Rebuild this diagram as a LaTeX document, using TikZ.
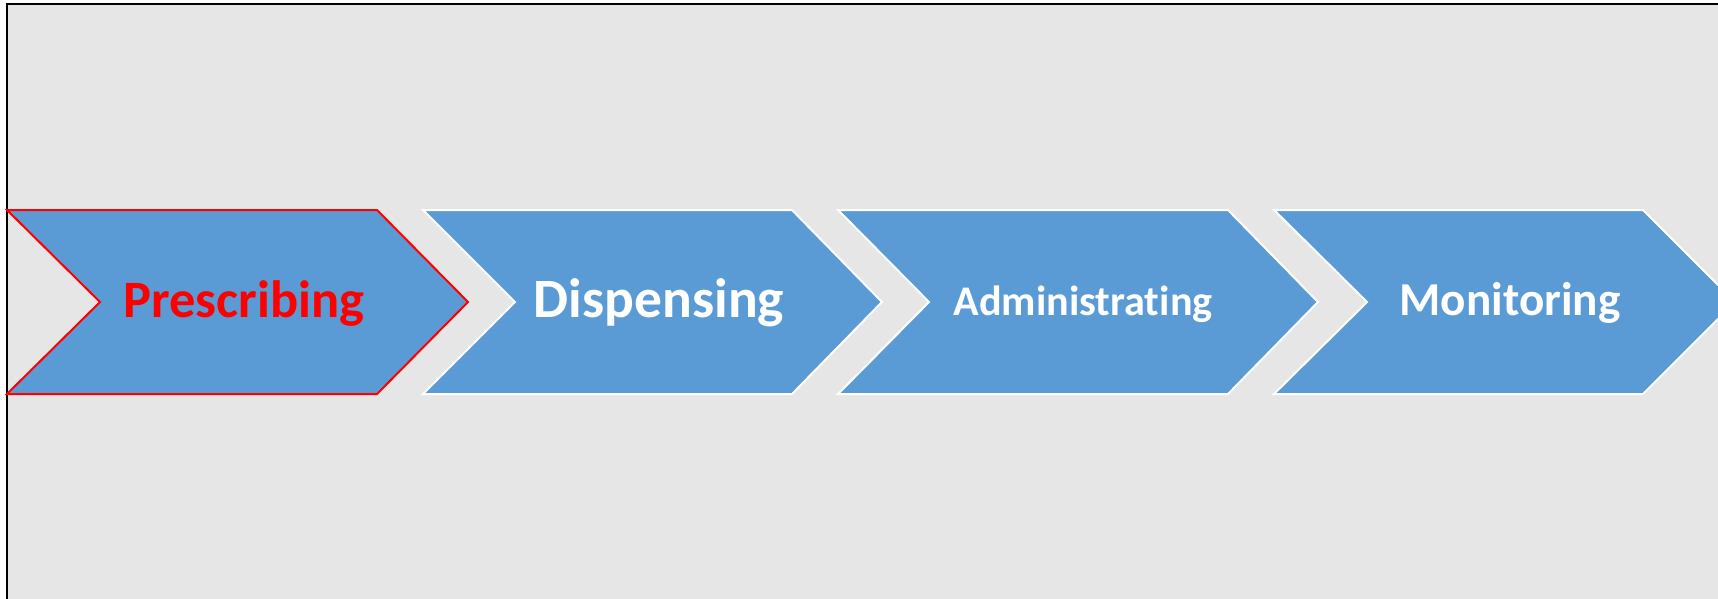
\documentclass[tikz,border=0pt]{standalone}
\usepackage{fontspec}
\setmainfont{Carlito}[Ligatures={NoCommon}]
\definecolor{chevblue}{HTML}{5B9BD5}
\definecolor{bggray}{HTML}{E6E6E6}
\definecolor{hired}{HTML}{FF0000}
\newcommand{\chevshape}[5]{%
  % #1 style, #2 left, #3 notch, #4 top-right, #5 tip
  \draw[#1] (#2,210) -- (#4,210) -- (#5,302) -- (#4,394) -- (#2,394) -- (#3,302) -- cycle;}
\begin{document}
\begin{tikzpicture}[x=1pt,y=-1pt,
  chevnormal/.style={fill=chevblue,draw=white,line width=2pt,line join=miter},
  chevactive/.style={fill=chevblue,draw=hired,line width=2pt,line join=miter},
  steplabel/.style={anchor=base,inner sep=0pt,text=white,font=\bfseries},
  activelabel/.style={steplabel,text=hired}]
\useasboundingbox (0,0) rectangle (1718,599);
\clip (0,0) rectangle (1718,599);
\fill[white] (0,0) rectangle (1718,599);
\fill[bggray] (7,4) rectangle (1730,620);
\draw[black,line width=2pt] (7,620) -- (7,4) -- (1730,4);
\chevshape{chevactive}{7}{100}{377}{468}
\chevshape{chevnormal}{423}{515}{792}{882}
\chevshape{chevnormal}{838}{929}{1228}{1318}
\chevshape{chevnormal}{1274}{1367}{1643}{1735}
\node[activelabel,font=\bfseries\fontsize{52.5}{60}\selectfont] (prescribing) at (244,317) {Prescribing};
\node[steplabel,font=\bfseries\fontsize{55.5}{62}\selectfont] (dispensing) at (659,317) {Dispensing};
\node[steplabel,font=\bfseries\fontsize{42.2}{50}\selectfont] (administrating) at (1083,315) {Administrating};
\node[steplabel,font=\bfseries\fontsize{47.2}{54}\selectfont] (monitoring) at (1510,315) {Monitoring};
\end{tikzpicture}
\end{document}
